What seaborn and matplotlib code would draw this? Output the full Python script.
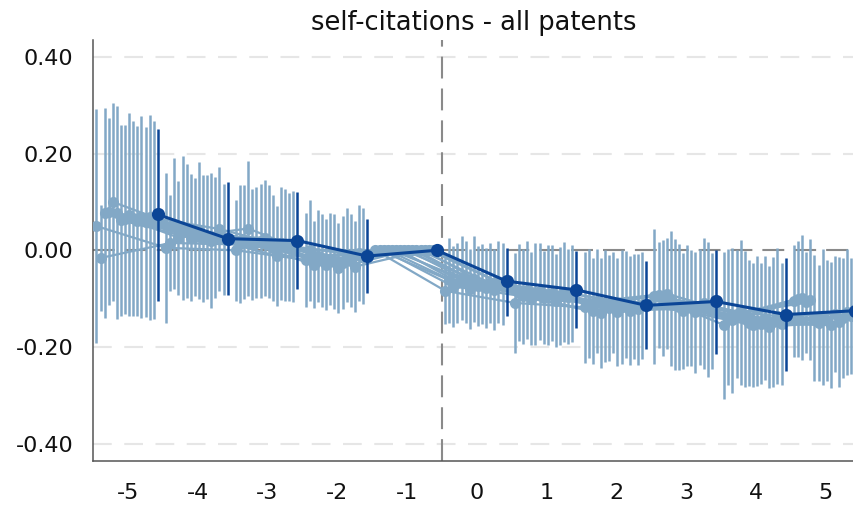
import matplotlib
matplotlib.use("Agg")
import matplotlib.pyplot as plt
from matplotlib.ticker import FormatStrFormatter
import pandas as pd
import seaborn as sns

# ---------------------------------------------------------------- data
event_time = [-5, -4, -3, -2, -1, 0, 1, 2, 3, 4, 5]
x_ticks = [-5, -4, -3, -2, -1, 0, 1, 2, 3, 4, 5]
y_ticks = [-0.40, -0.20, 0.00, 0.20, 0.40]
title = "self-citations - all patents"

# baseline estimate with 95% confidence bounds (event time -1 is the reference)
main_coef = [0.074, 0.024, 0.020, -0.012, 0.000, -0.064, -0.082, -0.114, -0.106, -0.133, -0.125]
main_lo = [-0.104, -0.092, -0.081, -0.088, 0.000, -0.137, -0.161, -0.205, -0.214, -0.249, -0.240]
main_hi = [0.250, 0.142, 0.121, 0.065, 0.000, 0.005, -0.002, -0.023, 0.001, -0.016, -0.010]

# alternative specifications: one row per event time, one column per specification
spec_coef = [
    [0.050, -0.016, 0.077, 0.080, 0.100, 0.078, 0.062, 0.064, 0.073, 0.066, 0.060, 0.069, 0.058, 0.068, 0.062],
    [0.005, 0.015, 0.055, 0.026, 0.046, 0.040, 0.026, 0.028, 0.041, 0.024, 0.027, 0.020, 0.026, 0.044, 0.023],
    [0.000, 0.012, 0.018, 0.045, 0.012, 0.016, 0.020, 0.026, 0.018, 0.004, -0.012, 0.014, 0.010, 0.006, 0.008],
    [-0.020, 0.000, -0.030, -0.012, -0.022, -0.030, -0.018, -0.024, -0.036, -0.026, -0.010, -0.022, -0.034, -0.005, -0.012],
    [0.000, 0.000, 0.000, 0.000, 0.000, 0.000, 0.000, 0.000, 0.000, 0.000, 0.000, 0.000, 0.000, 0.000, 0.000],
    [-0.084, -0.062, -0.075, -0.068, -0.058, -0.066, -0.080, -0.060, -0.074, -0.070, -0.078, -0.068, -0.082, -0.066, -0.070],
    [-0.109, -0.088, -0.095, -0.082, -0.100, -0.090, -0.085, -0.098, -0.092, -0.088, -0.104, -0.094, -0.086, -0.096, -0.090],
    [-0.118, -0.110, -0.125, -0.105, -0.130, -0.115, -0.120, -0.108, -0.128, -0.118, -0.112, -0.125, -0.116, -0.122, -0.114],
    [-0.095, -0.092, -0.098, -0.090, -0.100, -0.112, -0.118, -0.125, -0.115, -0.120, -0.128, -0.118, -0.110, -0.122, -0.125],
    [-0.155, -0.138, -0.145, -0.132, -0.128, -0.142, -0.150, -0.155, -0.146, -0.152, -0.140, -0.158, -0.148, -0.136, -0.152],
    [-0.105, -0.100, -0.098, -0.108, -0.102, -0.140, -0.150, -0.138, -0.145, -0.155, -0.132, -0.148, -0.140, -0.128, -0.135],
]
spec_half = [
    [0.242, 0.110, 0.218, 0.194, 0.205, 0.220, 0.198, 0.196, 0.210, 0.201, 0.197, 0.209, 0.197, 0.212, 0.205],
    [0.155, 0.100, 0.135, 0.118, 0.148, 0.139, 0.131, 0.122, 0.142, 0.131, 0.128, 0.139, 0.125, 0.128, 0.115],
    [0.105, 0.122, 0.118, 0.140, 0.114, 0.114, 0.118, 0.120, 0.116, 0.110, 0.104, 0.116, 0.116, 0.112, 0.115],
    [0.097, 0.104, 0.090, 0.096, 0.096, 0.094, 0.095, 0.098, 0.093, 0.096, 0.097, 0.096, 0.094, 0.099, 0.099],
    [0.000, 0.000, 0.000, 0.000, 0.000, 0.000, 0.000, 0.000, 0.000, 0.000, 0.000, 0.000, 0.000, 0.000, 0.000],
    [0.068, 0.088, 0.083, 0.083, 0.087, 0.085, 0.082, 0.089, 0.082, 0.082, 0.083, 0.083, 0.084, 0.085, 0.085],
    [0.104, 0.100, 0.098, 0.102, 0.097, 0.105, 0.100, 0.096, 0.103, 0.099, 0.097, 0.101, 0.104, 0.098, 0.100],
    [0.115, 0.112, 0.110, 0.108, 0.114, 0.116, 0.110, 0.105, 0.112, 0.118, 0.110, 0.113, 0.108, 0.115, 0.110],
    [0.140, 0.110, 0.120, 0.115, 0.140, 0.135, 0.130, 0.120, 0.125, 0.120, 0.125, 0.120, 0.135, 0.140, 0.120],
    [0.152, 0.140, 0.150, 0.132, 0.150, 0.140, 0.130, 0.128, 0.135, 0.125, 0.128, 0.126, 0.135, 0.140, 0.126],
    [0.115, 0.120, 0.130, 0.105, 0.125, 0.130, 0.120, 0.140, 0.125, 0.130, 0.120, 0.135, 0.125, 0.130, 0.120],
]

# ---------------------------------------------------------------- layout
main_offset = 0.43     # horizontal shift of the baseline estimate
spec_step = 0.0587     # spacing between neighbouring specifications
light = "#82a8c6"
dark = "#0b4596"

n_spec = len(spec_coef[0])
rows = []
for t, coefs, halves in zip(event_time, spec_coef, spec_half):
    for s, (c, h) in enumerate(zip(coefs, halves)):
        rows.append({
            "spec": s,
            "x": t + main_offset - (n_spec - s) * spec_step,
            "coef": c,
            "lo": c - h,
            "hi": c + h,
        })
specs = pd.DataFrame(rows)

main = pd.DataFrame({
    "x": [t + main_offset for t in event_time],
    "coef": main_coef,
    "lo": main_lo,
    "hi": main_hi,
})

# ---------------------------------------------------------------- figure
sns.set_theme(style="white")
plt.rcParams["font.family"] = ["DejaVu Sans"]
plt.rcParams["axes.unicode_minus"] = False

fig = plt.figure(figsize=(8.54, 5.05), dpi=100)
ax = fig.add_axes([93 / 854, 44 / 505, 761 / 854, 421 / 505])

# horizontal grid and reference lines
for y in y_ticks:
    if y != 0:
        ax.axhline(y, color="#e6e6e6", lw=1.5, ls=(0, (9, 6)), zorder=0)
ax.axhline(0, color="#8a8a8a", lw=1.5, ls=(0, (10.5, 4.8)), zorder=1)
ax.axvline(-0.5, color="#8a8a8a", lw=1.5, ls=(0, (10.5, 4.8)), zorder=1)

# alternative specifications
ci_specs = specs[specs["hi"] > specs["lo"]]
ax.vlines(ci_specs["x"], ci_specs["lo"], ci_specs["hi"], color=light, lw=1.8, zorder=2)
sns.lineplot(data=specs, x="x", y="coef", units="spec", estimator=None,
             color=light, lw=1.6, marker="o", markersize=8.0, markeredgewidth=0,
             sort=True, legend=False, ax=ax, zorder=3)

# baseline estimate
ci_main = main[main["hi"] > main["lo"]]
ax.vlines(ci_main["x"], ci_main["lo"], ci_main["hi"], color=dark, lw=1.8, zorder=4)
sns.lineplot(data=main, x="x", y="coef", color=dark, lw=2.2, marker="o",
             markersize=9.5, markeredgewidth=0, estimator=None, sort=True,
             legend=False, ax=ax, zorder=5)

ax.set_xlim(-5.5, 5.41)
ax.set_ylim(-0.436, 0.435)
ax.set_xticks(x_ticks)
ax.set_xticklabels([str(v) for v in x_ticks])
ax.set_yticks(y_ticks)
ax.yaxis.set_major_formatter(FormatStrFormatter("%.2f"))
ax.set_xlabel("")
ax.set_ylabel("")
ax.set_title(title, fontsize=18.5, pad=7, color="#111111")

for side in ("top", "right"):
    ax.spines[side].set_visible(False)
for side in ("left", "bottom"):
    ax.spines[side].set_color("#555555")
    ax.spines[side].set_linewidth(1.1)
ax.tick_params(axis="both", direction="out", length=8, width=1.1, color="#555555",
               labelsize=16, labelcolor="#111111", pad=6)
ax.tick_params(axis="x", pad=8)
ax.grid(False)

fig.savefig("out.png", dpi=100)
